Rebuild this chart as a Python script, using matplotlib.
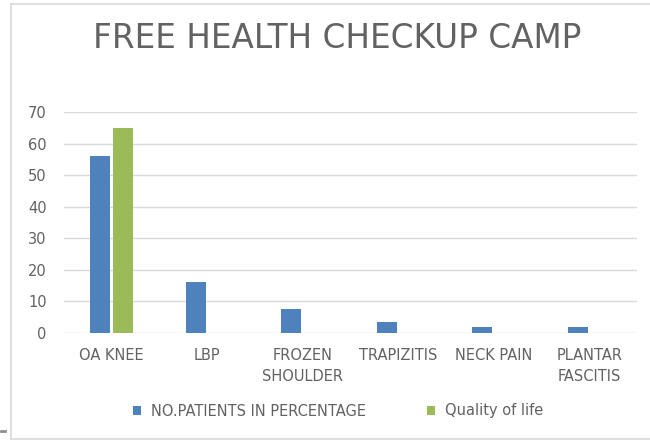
import matplotlib
matplotlib.use("Agg")
import matplotlib.pyplot as plt
import numpy as np
from matplotlib.lines import Line2D

categories = ["OA KNEE", "LBP", "FROZEN\nSHOULDER", "TRAPIZITIS", "NECK PAIN", "PLANTAR\nFASCITIS"]
patients_pct = [56, 16, 7.5, 3.5, 2, 2]
quality_of_life = [65, 0, 0, 0, 0, 0]
yticks = [0, 10, 20, 30, 40, 50, 60, 70]

plt.rcParams['font.family'] = ['DejaVu Sans']
TXT = "#626262"
FS = 10.5
fig = plt.figure(figsize=(6.5, 4.41), dpi=100)
ax = fig.add_axes([64/650, 1 - 333/441, (637 - 64)/650, (333 - 112)/441])

x = np.arange(len(categories))
w = 0.21
gap = 0.015
ax.bar(x - w/2 - gap, patients_pct, width=w, color="#4F81BD", label="NO.PATIENTS IN PERCENTAGE", zorder=3)
ax.bar(x + w/2 + gap, quality_of_life, width=w, color="#9BBB59", label="Quality of life", zorder=3)

ax.set_xlim(-0.5, len(categories) - 0.5)
ax.set_ylim(0, 70)
ax.set_yticks(yticks)
ax.set_xticks(x)
ax.set_xticklabels(categories, fontsize=FS, color=TXT, linespacing=1.45)
ax.tick_params(axis='y', labelsize=FS, colors=TXT, length=0, pad=12.5)
ax.tick_params(axis='x', length=0, pad=11)
ax.grid(axis='y', color="#d9d9d9", linewidth=1, zorder=0)
for s in ax.spines.values():
    s.set_visible(False)

fig.text(0.518, 1 - 38/441, "FREE HEALTH CHECKUP CAMP", ha='center', va='center', fontsize=23.5, color=TXT)

leg = fig.legend(loc='center', bbox_to_anchor=(0.52, 1 - 411/441), ncol=2, frameon=False,
                 fontsize=FS, handlelength=0.55, handleheight=0.55, columnspacing=4.2, handletextpad=0.7)
for t in leg.get_texts():
    t.set_color(TXT)

bx = 11/650
fig.add_artist(Line2D([bx, bx], [1 - 4/441, 1 - 439/441], transform=fig.transFigure, color="#d9d9d9", lw=1.2))
fig.add_artist(Line2D([bx, 1], [1 - 4/441, 1 - 4/441], transform=fig.transFigure, color="#d9d9d9", lw=1.2))
fig.add_artist(Line2D([bx, 1], [1 - 439/441, 1 - 439/441], transform=fig.transFigure, color="#d9d9d9", lw=1.2))
fig.add_artist(Line2D([0.5/650, 5/650], [1 - 431/441, 1 - 431/441], transform=fig.transFigure, color="#909090", lw=2))

fig.savefig("out.png", dpi=100)
